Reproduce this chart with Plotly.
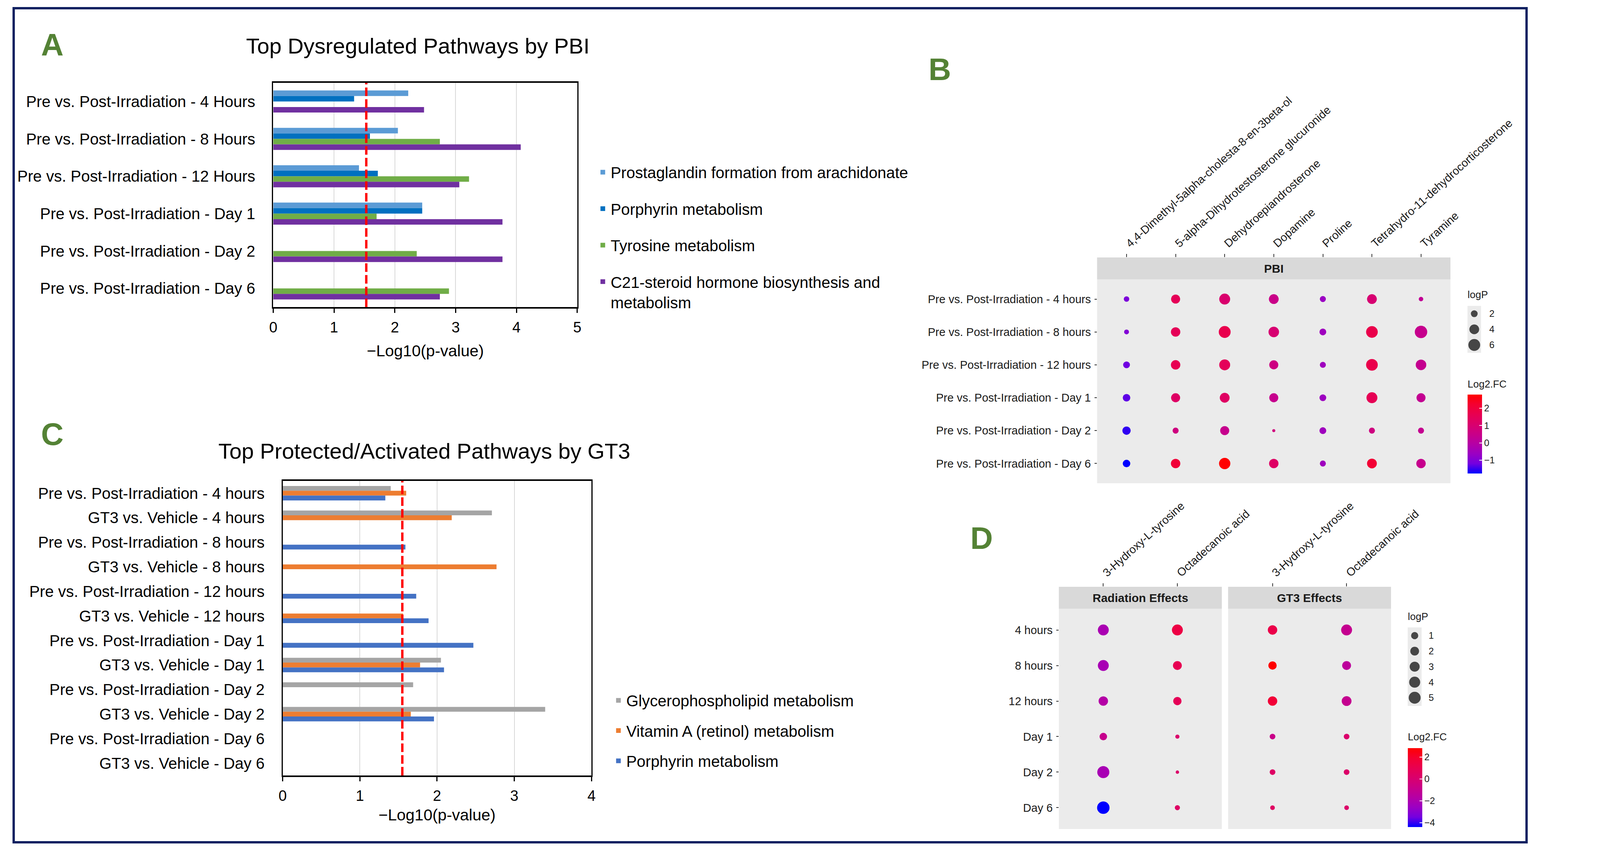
import numpy as np
import plotly.graph_objects as go

# The browser viewport is 4096 px wide; the reference layout (4408 px wide) is mapped onto it
REF_W = 4408
W, H = 4096, 2186
SX = W / REF_W
FONT = "Liberation Sans, Arial, Helvetica, sans-serif"

# ---------------- Panel A data ----------------
A_categories = [
    "Pre vs. Post-Irradiation - 4 Hours",
    "Pre vs. Post-Irradiation - 8 Hours",
    "Pre vs. Post-Irradiation - 12 Hours",
    "Pre vs. Post-Irradiation - Day 1",
    "Pre vs. Post-Irradiation - Day 2",
    "Pre vs. Post-Irradiation - Day 6",
]
A_series = [
    "Prostaglandin formation from arachidonate",
    "Porphyrin metabolism",
    "Tyrosine metabolism",
    "C21-steroid hormone biosynthesis and<br>metabolism",
]
A_prostaglandin = [2.22, 2.05, 1.41, 2.45, None, None]
A_porphyrin = [1.33, 1.59, 1.72, 2.45, None, None]
A_tyrosine = [None, 2.74, 3.22, 1.70, 2.36, 2.89]
A_c21 = [2.48, 4.07, 3.06, 3.77, 3.77, 2.74]
A_threshold = 1.53
A_ticks = [0, 1, 2, 3, 4, 5]

# ---------------- Panel C data ----------------
C_categories = [
    "Pre vs. Post-Irradiation - 4 hours",
    "GT3 vs. Vehicle - 4 hours",
    "Pre vs. Post-Irradiation - 8 hours",
    "GT3 vs. Vehicle - 8 hours",
    "Pre vs. Post-Irradiation - 12 hours",
    "GT3 vs. Vehicle - 12 hours",
    "Pre vs. Post-Irradiation - Day 1",
    "GT3 vs. Vehicle - Day 1",
    "Pre vs. Post-Irradiation - Day 2",
    "GT3 vs. Vehicle - Day 2",
    "Pre vs. Post-Irradiation - Day 6",
    "GT3 vs. Vehicle - Day 6",
]
C_series = ["Glycerophospholipid metabolism", "Vitamin A (retinol) metabolism", "Porphyrin metabolism"]
C_glycero = [1.40, 2.71, None, None, None, None, None, 2.05, 1.69, 3.40, None, None]
C_vitamin_a = [1.60, 2.19, None, 2.77, None, 1.56, None, 1.78, None, 1.66, None, None]
C_porphyrin = [1.33, None, 1.59, None, 1.73, 1.89, 2.47, 2.09, None, 1.96, None, None]
C_threshold = 1.55
C_ticks = [0, 1, 2, 3, 4]

# ---------------- Panel B data ----------------
B_rows = [
    "Pre vs. Post-Irradiation - 4 hours",
    "Pre vs. Post-Irradiation - 8 hours",
    "Pre vs. Post-Irradiation - 12 hours",
    "Pre vs. Post-Irradiation - Day 1",
    "Pre vs. Post-Irradiation - Day 2",
    "Pre vs. Post-Irradiation - Day 6",
]
B_compounds = [
    "4,4-Dimethyl-5alpha-cholesta-8-en-3beta-ol",
    "5-alpha-Dihydrotestosterone glucuronide",
    "Dehydroepiandrosterone",
    "Dopamine",
    "Proline",
    "Tetrahydro-11-dehydrocorticosterone",
    "Tyramine",
]
B_log2fc = [
    [-1.09, 1.51, 1.06, 0.51, -0.63, 0.97, 0.28],
    [-1.00, 1.51, 1.70, 0.97, -0.54, 1.74, 0.42],
    [-1.22, 1.60, 1.47, 0.65, -0.54, 1.74, 0.37],
    [-1.31, 1.24, 1.28, 0.42, -0.58, 1.56, 0.33],
    [-1.54, 0.69, 0.42, 0.74, -0.54, 0.69, 0.37],
    [-1.77, 2.10, 2.79, 1.24, -0.54, 2.15, 0.42],
]
B_logp = [
    [1.48, 3.39, 5.05, 4.00, 1.67, 4.00, 1.24],
    [1.32, 3.69, 6.05, 4.68, 2.00, 5.84, 6.70],
    [2.00, 3.69, 5.05, 3.39, 1.67, 5.84, 4.68],
    [2.39, 3.39, 4.00, 3.39, 2.00, 5.05, 3.39],
    [2.86, 1.67, 3.39, 1.10, 2.00, 1.67, 1.67],
    [2.39, 3.69, 5.44, 3.69, 1.67, 4.00, 3.69],
]
B_size_legend = [2, 4, 6]
B_color_ticks = [-1, 0, 1, 2]

# ---------------- Panel D data ----------------
D_rows = ["4 hours", "8 hours", "12 hours", "Day 1", "Day 2", "Day 6"]
D_compounds = ["3-Hydroxy-L-tyrosine", "Octadecanoic acid"]
D_facets = ["Radiation Effects", "GT3 Effects"]
D_rad_log2fc = {
    "3-Hydroxy-L-tyrosine": [-2.08, -2.15, -1.72, -0.93, -2.15, -4.39],
    "Octadecanoic acid": [1.38, 0.95, 0.80, 0.15, 0.22, 0.37],
}
D_rad_logp = {
    "3-Hydroxy-L-tyrosine": [3.90, 3.90, 2.50, 1.19, 5.14, 5.60],
    "Octadecanoic acid": [3.90, 2.06, 1.66, 0.06, 0.02, 0.22],
}
D_gt3_log2fc = {
    "3-Hydroxy-L-tyrosine": [1.23, 2.82, 1.74, -0.79, 0.37, 0.44],
    "Octadecanoic acid": [-1.00, -1.36, -1.00, 0.15, 0.22, 0.22],
}
D_gt3_logp = {
    "3-Hydroxy-L-tyrosine": [2.50, 1.66, 2.50, 0.37, 0.37, 0.13],
    "Octadecanoic acid": [3.90, 2.06, 2.82, 0.37, 0.37, 0.13],
}
D_size_legend = [1, 2, 3, 4, 5]
D_color_ticks = [-4, -2, 0, 2]

# ---------------- styles ----------------
A_colors = ["#5B9BD5", "#0070C0", "#70AD47", "#7030A0"]
C_colors = ["#A5A5A5", "#ED7D31", "#4472C4"]
LETTER_GREEN = "#548235"
FRAME = "#0E2161"
PANEL_BG = "#EBEBEB"
STRIP_BG = "#D9D9D9"
GG_TEXT = "#1A1A1A"
# blue -> red gradient interpolated in Lab space (as ggplot's scale_colour_gradient)
GRADIENT = [
    [0.0, "#0000FF"], [0.125, "#7400E0"], [0.25, "#9B00C3"], [0.375, "#B500A5"],
    [0.5, "#C90088"], [0.625, "#DA006C"], [0.75, "#E80050"], [0.875, "#F40031"],
    [1.0, "#FF0000"],
]
F_EXCEL = 40.3
F_EXCEL_AXT = 41
F_EXCEL_TICK = 38
F_TITLE = 56.3
F_GG = 29
F_GG_X = 29
F_STRIP = 30
F_LEG_TITLE = 26
F_LEG = 24
DOT = 0.964  # dot diameter factor for the narrower viewport


def px(x):
    return x / REF_W


def py(y):
    return 1 - y / H


def area_size(vals, lo, hi, dmin, dmax):
    v = np.asarray(vals, dtype=float)
    return DOT * (dmin + (dmax - dmin) * np.sqrt(np.clip((v - lo) / (hi - lo), 0, 1)))


def minus(v):
    return str(v).replace("-", "\u2212")


fig = go.Figure()

# ---------------- Panel A bars ----------------
for name, vals, col in zip(A_series, [A_prostaglandin, A_porphyrin, A_tyrosine, A_c21], A_colors):
    fig.add_trace(go.Bar(
        y=A_categories, x=vals, orientation="h", name=name,
        marker=dict(color=col, line=dict(width=0)),
        xaxis="x", yaxis="y", legend="legend", legendgroup="A" + name,
    ))

# ---------------- Panel C bars ----------------
for name, vals, col in zip(C_series, [C_glycero, C_vitamin_a, C_porphyrin], C_colors):
    fig.add_trace(go.Bar(
        y=C_categories, x=vals, orientation="h", name=name,
        marker=dict(color=col, line=dict(width=0)),
        xaxis="x2", yaxis="y2", legend="legend2", legendgroup="C" + name,
    ))

# ---------------- Panel B dots ----------------
B_all_p = np.array(B_logp, dtype=float)
B_lo, B_hi = B_all_p.min(), B_all_p.max()
B_all_fc = np.array(B_log2fc, dtype=float)
bx, by, bc, bp = [], [], [], []
for i, r in enumerate(B_rows):
    for j, c in enumerate(B_compounds):
        bx.append(c)
        by.append(r)
        bc.append(B_log2fc[i][j])
        bp.append(B_logp[i][j])
fig.add_trace(go.Scatter(
    x=bx, y=by, mode="markers", showlegend=False,
    marker=dict(size=area_size(bp, B_lo, B_hi, 8, 33), color=bc, coloraxis="coloraxis",
                line=dict(width=0), opacity=1),
    xaxis="x3", yaxis="y3",
))
fig.add_trace(go.Scatter(
    x=[0] * len(B_size_legend), y=B_size_legend, mode="markers", showlegend=False,
    marker=dict(size=area_size(B_size_legend, B_lo, B_hi, 8, 33), color="black", line=dict(width=0)),
    xaxis="x6", yaxis="y6",
))

# ---------------- Panel D dots ----------------
D_all_p = np.array([D_rad_logp[c] for c in D_compounds] + [D_gt3_logp[c] for c in D_compounds], dtype=float)
D_all_fc = np.array([D_rad_log2fc[c] for c in D_compounds] + [D_gt3_log2fc[c] for c in D_compounds], dtype=float)
D_lo, D_hi = D_all_p.min(), D_all_p.max()
for fc_map, p_map, xa in [(D_rad_log2fc, D_rad_logp, "x4"), (D_gt3_log2fc, D_gt3_logp, "x5")]:
    dx, dy, dc, dp = [], [], [], []
    for c in D_compounds:
        for k, r in enumerate(D_rows):
            dx.append(c)
            dy.append(r)
            dc.append(fc_map[c][k])
            dp.append(p_map[c][k])
    fig.add_trace(go.Scatter(
        x=dx, y=dy, mode="markers", showlegend=False,
        marker=dict(size=area_size(dp, D_lo, D_hi, 9, 33), color=dc, coloraxis="coloraxis2",
                    line=dict(width=0), opacity=1),
        xaxis=xa, yaxis="y4",
    ))
fig.add_trace(go.Scatter(
    x=[0] * len(D_size_legend), y=D_size_legend, mode="markers", showlegend=False,
    marker=dict(size=area_size(D_size_legend, D_lo, D_hi, 9, 33), color="black", line=dict(width=0)),
    xaxis="x7", yaxis="y7",
))

# ---------------- axes ----------------
excel_x = dict(showgrid=True, gridcolor="#D9D9D9", gridwidth=2, zeroline=False,
               showline=True, mirror=True, linecolor="black", linewidth=4,
               ticks="outside", ticklen=11, tickwidth=3, tickcolor="black",
               tickfont=dict(size=F_EXCEL_TICK, family=FONT, color="black"), ticklabelstandoff=4,
               fixedrange=True)
excel_y = dict(type="category", autorange="reversed", showgrid=False, zeroline=False,
               showline=True, mirror=True, linecolor="black", linewidth=3, ticks="",
               tickfont=dict(size=F_EXCEL, family=FONT, color="black"), ticklabelstandoff=round(38 * SX),
               fixedrange=True)

gg_x = dict(type="category", side="top", showgrid=False, zeroline=False, showline=False,
            ticks="outside", ticklen=8, tickwidth=2, tickcolor="#333333", tickangle=-42,
            tickfont=dict(size=F_GG_X, family=FONT, color=GG_TEXT), fixedrange=True)
gg_y = dict(type="category", showgrid=False, zeroline=False, showline=False,
            ticks="outside", ticklen=6, tickwidth=2, tickcolor="#333333",
            tickfont=dict(size=F_GG, family=FONT, color=GG_TEXT), ticklabelstandoff=3,
            fixedrange=True)

# B geometry (reference pixel rows)
B_strip_top, B_panel_top, B_panel_bottom = 659, 715, 1237
B_row_px = (B_panel_bottom - B_panel_top) / (len(B_rows) - 1 + 1.2)
B_range_top = -0.6 - (B_panel_top - B_strip_top) / B_row_px
# D geometry
D_strip_top, D_panel_top, D_panel_bottom = 1502, 1558, 2122
D_row_px = (D_panel_bottom - D_panel_top) / (len(D_rows) - 1 + 1.2)
D_range_top = -0.6 - (D_panel_top - D_strip_top) / D_row_px

fig.update_layout(
    xaxis=dict(domain=[px(774), px(1649)], anchor="y", range=[0, 5], tickvals=A_ticks, **excel_x),
    yaxis=dict(domain=[py(786), py(212)], anchor="x", categoryorder="array",
               categoryarray=A_categories, **excel_y),
    xaxis2=dict(domain=[px(801), px(1690)], anchor="y2", range=[0, 4], tickvals=C_ticks, **excel_x),
    yaxis2=dict(domain=[py(1985), py(1231)], anchor="x2", categoryorder="array",
                categoryarray=C_categories, **excel_y),
    xaxis3=dict(domain=[px(3145), px(4162)], anchor="y3", categoryorder="array",
                categoryarray=B_compounds, range=[-0.6, len(B_compounds) - 0.4], **gg_x),
    yaxis3=dict(domain=[py(B_panel_bottom), py(B_strip_top)], anchor="x3", categoryorder="array",
                categoryarray=B_rows, range=[len(B_rows) - 0.4, B_range_top], **gg_y),
    xaxis4=dict(domain=[px(3035), px(3504)], anchor="y4", categoryorder="array",
                categoryarray=D_compounds, range=[-0.6, len(D_compounds) - 0.4], **gg_x),
    xaxis5=dict(domain=[px(3522), px(3991)], anchor="y4", categoryorder="array",
                categoryarray=D_compounds, range=[-0.6, len(D_compounds) - 0.4], **gg_x),
    yaxis4=dict(domain=[py(D_panel_bottom), py(D_strip_top)], anchor="x4", categoryorder="array",
                categoryarray=D_rows, range=[len(D_rows) - 0.4, D_range_top], **gg_y),
    xaxis6=dict(domain=[px(4211), px(4250)], anchor="y6", range=[-1, 1], visible=False, fixedrange=True),
    yaxis6=dict(domain=[py(903), py(783)], anchor="x6", side="right", range=[7, 1],
                tickvals=B_size_legend, ticktext=[str(v) for v in B_size_legend],
                showgrid=False, zeroline=False, showline=False, ticks="",
                tickfont=dict(size=F_LEG, family=FONT, color=GG_TEXT), ticklabelstandoff=round(22 * SX),
                fixedrange=True),
    xaxis7=dict(domain=[px(4039), px(4079)], anchor="y7", range=[-1, 1], visible=False, fixedrange=True),
    yaxis7=dict(domain=[py(1807), py(1606)], anchor="x7", side="right", range=[5.53, 0.47],
                tickvals=D_size_legend, ticktext=[str(v) for v in D_size_legend],
                showgrid=False, zeroline=False, showline=False, ticks="",
                tickfont=dict(size=F_LEG, family=FONT, color=GG_TEXT), ticklabelstandoff=round(18 * SX),
                fixedrange=True),
    coloraxis=dict(
        colorscale=GRADIENT, cmin=float(B_all_fc.min()), cmax=float(B_all_fc.max()),
        colorbar=dict(x=px(4211), xanchor="left", xpad=0, y=py(1010), yanchor="top", ypad=0,
                      len=202, lenmode="pixels", thickness=round(40 * SX), thicknessmode="pixels",
                      outlinewidth=0, tickvals=B_color_ticks, ticktext=[minus(v) for v in B_color_ticks],
                      ticks="inside", ticklen=7, tickwidth=2, tickcolor="white",
                      tickfont=dict(size=F_LEG, family=FONT, color=GG_TEXT)),
    ),
    coloraxis2=dict(
        colorscale=GRADIENT, cmin=float(D_all_fc.min()), cmax=float(D_all_fc.max()),
        colorbar=dict(x=px(4039), xanchor="left", xpad=0, y=py(1915), yanchor="top", ypad=0,
                      len=202, lenmode="pixels", thickness=round(40 * SX), thicknessmode="pixels",
                      outlinewidth=0, tickvals=D_color_ticks, ticktext=[minus(v) for v in D_color_ticks],
                      ticks="inside", ticklen=7, tickwidth=2, tickcolor="white",
                      tickfont=dict(size=F_LEG, family=FONT, color=GG_TEXT)),
    ),
    legend=dict(x=px(1700), y=py(408), xanchor="left", yanchor="top",
                font=dict(size=F_EXCEL, family=FONT, color="black"), traceorder="grouped",
                tracegroupgap=38, bgcolor="rgba(0,0,0,0)", itemwidth=30, valign="top",
                itemclick=False, itemdoubleclick=False),
    legend2=dict(x=px(1745), y=py(1760), xanchor="left", yanchor="top",
                 font=dict(size=F_EXCEL, family=FONT, color="black"), traceorder="grouped",
                 tracegroupgap=22, bgcolor="rgba(0,0,0,0)", itemwidth=30, valign="top",
                 itemclick=False, itemdoubleclick=False),
    barmode="group", bargap=0.41, bargroupgap=0,
    width=W, height=H, margin=dict(l=0, r=0, t=0, b=0),
    paper_bgcolor="white", plot_bgcolor="rgba(0,0,0,0)",
    font=dict(family=FONT, color="black"),
)

shapes = []
shapes.append(dict(type="rect", xref="paper", yref="paper", x0=px(27), x1=px(4381), y0=py(2156), y1=py(21),
                   line=dict(color=FRAME, width=6), fillcolor="rgba(0,0,0,0)", layer="above"))
shapes.append(dict(type="line", xref="x", yref="y domain", x0=A_threshold, x1=A_threshold, y0=0, y1=1,
                   line=dict(color="#FF0000", width=6, dash="22px,8px"), layer="above"))
shapes.append(dict(type="line", xref="x2", yref="y2 domain", x0=C_threshold, x1=C_threshold, y0=0, y1=1,
                   line=dict(color="#FF0000", width=6, dash="22px,8px"), layer="above"))
for xr, top, ptop, bot in [("x3 domain", B_strip_top, B_panel_top, B_panel_bottom),
                           ("x4 domain", D_strip_top, D_panel_top, D_panel_bottom),
                           ("x5 domain", D_strip_top, D_panel_top, D_panel_bottom)]:
    shapes.append(dict(type="rect", xref=xr, yref="paper", x0=0, x1=1, y0=py(bot), y1=py(ptop),
                       fillcolor=PANEL_BG, line=dict(width=0), layer="below"))
    shapes.append(dict(type="rect", xref=xr, yref="paper", x0=0, x1=1, y0=py(ptop), y1=py(top),
                       fillcolor=STRIP_BG, line=dict(width=0), layer="below"))
for xr, yr in [("x6 domain", "y6 domain"), ("x7 domain", "y7 domain")]:
    shapes.append(dict(type="rect", xref=xr, yref=yr, x0=0, x1=1, y0=0, y1=1,
                       fillcolor=PANEL_BG, line=dict(width=0), layer="below"))

annotations = []


def ann(text, x, y, size, xanchor="center", color="black", xref="paper", bold=False):
    annotations.append(dict(text=("<b>%s</b>" % text) if bold else text, x=x, y=y, xref=xref, yref="paper",
                            xanchor=xanchor, yanchor="middle", showarrow=False,
                            font=dict(size=size, family=FONT, color=color)))


ann("A", px(103), py(114), 80, xanchor="left", color=LETTER_GREEN, bold=True)
ann("B", px(2658), py(178), 80, xanchor="left", color=LETTER_GREEN, bold=True)
ann("C", px(103), py(1112), 80, xanchor="left", color=LETTER_GREEN, bold=True)
ann("D", px(2778), py(1377), 80, xanchor="left", color=LETTER_GREEN, bold=True)
ann("Top Dysregulated Pathways by PBI", px(1190), py(117), F_TITLE)
ann("Top Protected/Activated Pathways by GT3", px(1209), py(1154), F_TITLE)
ann("\u2212Log10(p-value)", 0.5, py(898), F_EXCEL_AXT, xref="x domain")
ann("\u2212Log10(p-value)", 0.5, py(2086), F_EXCEL_AXT, xref="x2 domain")
ann("PBI", 0.5, py((B_strip_top + B_panel_top) / 2), F_STRIP, xref="x3 domain", color=GG_TEXT, bold=True)
ann(D_facets[0], 0.5, py((D_strip_top + D_panel_top) / 2), F_STRIP, xref="x4 domain", color=GG_TEXT, bold=True)
ann(D_facets[1], 0.5, py((D_strip_top + D_panel_top) / 2), F_STRIP, xref="x5 domain", color=GG_TEXT, bold=True)
ann("logP", px(4209), py(754), F_LEG_TITLE, xanchor="left", color=GG_TEXT)
ann("Log2.FC", px(4209), py(983), F_LEG_TITLE, xanchor="left", color=GG_TEXT)
ann("logP", px(4037), py(1578), F_LEG_TITLE, xanchor="left", color=GG_TEXT)
ann("Log2.FC", px(4037), py(1886), F_LEG_TITLE, xanchor="left", color=GG_TEXT)

fig.update_layout(shapes=shapes, annotations=annotations)

fig.write_html(
    "out.html",
    config={"displayModeBar": False, "responsive": False},
    post_script=(
        "document.documentElement.style.overflow='hidden';"
        "document.body.style.margin='0';document.body.style.overflow='hidden';"
    ),
)
